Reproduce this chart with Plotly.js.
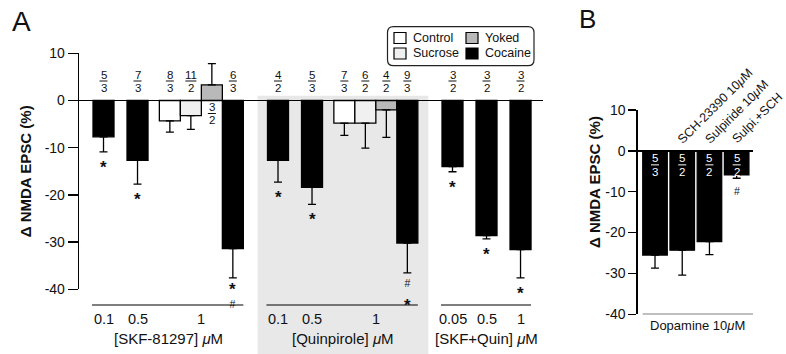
<!DOCTYPE html>
<html>
<head>
<meta charset="utf-8">
<script src="https://cdn.plot.ly/plotly-3.0.1.min.js"></script>
<style>html,body{margin:0;padding:0;background:#fff}#chart{width:786px;height:354px}</style>
</head>
<body>
<div id="chart"></div>
<script>
// ---------------- Panel A data ----------------
const groupTitles = ['[SKF-81297] <i>μ</i>M', '[Quinpirole] <i>μ</i>M', '[SKF+Quin] <i>μ</i>M'];
const doseLabels = [['0.1', '0.5', '1'], ['0.1', '0.5', '1'], ['0.05', '0.5', '1']];
const barGroup = [0, 0, 0, 0, 0, 0, 1, 1, 1, 1, 1, 1, 2, 2, 2];
const barDose  = [0, 1, 2, 2, 2, 2, 0, 1, 2, 2, 2, 2, 0, 1, 2];
const barCond  = ['Cocaine', 'Cocaine', 'Control', 'Sucrose', 'Yoked', 'Cocaine',
                  'Cocaine', 'Cocaine', 'Control', 'Sucrose', 'Yoked', 'Cocaine',
                  'Cocaine', 'Cocaine', 'Cocaine'];
const barValue = [-7.7, -12.7, -4.3, -3.2, 3.3, -31.4,
                  -12.7, -18.4, -4.8, -4.8, -2.0, -30.2,
                  -14.0, -28.6, -31.6];
const barError = [3.2, 5.0, 2.4, 2.9, 4.5, 6.2,
                  4.6, 3.6, 2.6, 5.3, 5.8, 6.3,
                  1.1, 0.7, 6.0];
const barN = ['5/3', '7/3', '8/3', '11/2', '3/2', '6/3',
              '4/2', '5/3', '7/3', '6/2', '4/2', '9/3',
              '3/2', '3/2', '3/2'];
const barMarks = [['*'], ['*'], [], [], [], ['*', '#'],
                  ['*'], ['*'], [], [], [], ['#', '*'],
                  ['*'], ['*'], ['*']];
const shadedGroup = 1;
const conditions = ['Control', 'Sucrose', 'Yoked', 'Cocaine'];
const condColors = {Control: '#ffffff', Sucrose: '#f0f0f0', Yoked: '#b9b9b9', Cocaine: '#000000'};

// ---------------- Panel B data ----------------
const bCategories = ['Dopamine', 'SCH-23390', 'Sulpiride', 'Sulpi.+SCH'];
const bLabels = ['', 'SCH-23390 10<i>μ</i>M', 'Sulpiride 10<i>μ</i>M', 'Sulpi.+SCH'];
const bValue = [-25.5, -24.3, -22.2, -5.9];
const bError = [3.2, 6.1, 3.2, 0.8];
const bN = ['5/3', '5/2', '5/2', '5/2'];
const bMarks = [[], [], [], ['#']];
const bGroupLabel = 'Dopamine 10<i>μ</i>M';

const yTicks = [10, 0, -10, -20, -30, -40];
const yTickText = ['10', '0', '-10', '-20', '-30', '-40'];
const yTitle = '<b>Δ NMDA EPSC (%)</b>';

// ---------------- layout helpers ----------------
const W = 786, H = 354;
const px = v => v / W;
const py = v => 1 - v / H;
const FONT = 'Liberation Sans, Arial, Helvetica, sans-serif';
const INK = '#111';

// glyph styling of significance marks (c = visual centre above baseline, px)
const GLYPH = {'*': {size: 17, weight: 'bold', c: 9.7}, '#': {size: 10.5, weight: 'normal', c: 3.7}};
const MARK_FIRST_GAP = {'*': 10.5, '#': 12, '*#': 7, '#*': 9}; // error-bar cap -> centre of first mark
const MARK_SEP = {'*#': 19.3, '#*': 17.5};                       // centre-to-centre spacing of stacked marks

// bar positions in panel A (units = one bar width)
const SINGLE_STEP = 1.62, CLUSTER_ENTRY = 1.54, CLUSTER_STEP = 1.0, GROUP_GAP = 2.15;
const barX = [];
barValue.forEach((v, i) => {
  if (i === 0) { barX.push(0); return; }
  let p = barX[i - 1];
  const clusterNext = barDose.filter((d, j) => barGroup[j] === barGroup[i] && d === barDose[i]).length > 1;
  if (barGroup[i] !== barGroup[i - 1]) p += GROUP_GAP;
  else if (barDose[i] === barDose[i - 1]) p += CLUSTER_STEP;
  else if (clusterNext) p += CLUSTER_ENTRY;
  else p += SINGLE_STEP;
  barX.push(p);
});
const bX = bCategories.map((c, i) => i);

const traces = [];
conditions.forEach(c => {
  const idx = barCond.map((v, i) => v === c ? i : -1).filter(i => i >= 0);
  traces.push({
    type: 'bar', name: c,
    x: idx.map(i => barX[i]), y: idx.map(i => barValue[i]),
    width: 1,
    marker: {color: condColors[c], line: {color: '#000', width: 1.3}},
    error_y: {type: 'data', symmetric: false,
      array: idx.map(i => barValue[i] > 0 ? barError[i] : 0),
      arrayminus: idx.map(i => barValue[i] < 0 ? barError[i] : 0),
      color: '#000', thickness: 1.3, width: 4},
    xaxis: 'x', yaxis: 'y', showlegend: false, hoverinfo: 'skip'
  });
});
traces.push({
  type: 'bar', name: 'Dopamine 10μM',
  x: bX, y: bValue, width: 0.9,
  marker: {color: '#000', line: {color: '#000', width: 1.3}},
  error_y: {type: 'data', symmetric: false,
    array: bValue.map(() => 0), arrayminus: bError,
    color: '#000', thickness: 1.3, width: 4},
  xaxis: 'x2', yaxis: 'y2', showlegend: false, hoverinfo: 'skip'
});

const annotations = [];
const shapes = [];

// fractions (n cells / n animals)
function addFraction(xref, yref, xv, frac, inside, positive, color) {
  const [num, den] = frac.split('/');
  let oNum, oLine, oDen;
  if (inside) { oNum = -7.5; oLine = -14; oDen = -21; }
  else if (positive) { oNum = -7; oLine = -13; oDen = -20; }
  else { oNum = 25.5; oLine = 19.5; oDen = 12.5; }
  const f = {family: FONT, size: 11.5, color: color};
  annotations.push({xref, yref, x: xv, y: 0, text: num, showarrow: false, yanchor: 'middle', yshift: oNum, font: f});
  annotations.push({xref, yref, x: xv, y: 0, text: den, showarrow: false, yanchor: 'middle', yshift: oDen, font: f});
  const hw = Math.max(num.length, den.length) > 1 ? 5.5 : 4;
  shapes.push({type: 'line', xref, yref, xsizemode: 'pixel', ysizemode: 'pixel',
    xanchor: xv, yanchor: 0, x0: -hw, x1: hw, y0: oLine, y1: oLine,
    line: {color: color, width: 1}});
}
// significance marks, stacked in one text below the error bar
function addMarks(xref, yref, xv, yEnd, marks) {
  if (!marks.length) return;
  const key = marks.join('');
  const g0 = GLYPH[marks[0]];
  let base = 12;
  if (marks.length > 1) {
    const g1 = GLYPH[marks[1]];
    base = (MARK_SEP[key] - g0.c + g1.c) / 1.3;
  }
  const text = marks.map(m => `<span style="font-size:${GLYPH[m].size}px;font-weight:${GLYPH[m].weight}">${m}</span>`).join('<br>');
  const yshift = 1 + 0.905 * g0.size - g0.c - MARK_FIRST_GAP[key];
  annotations.push({xref, yref, x: xv, y: yEnd, text: text, showarrow: false, yanchor: 'top',
    yshift: yshift, font: {family: FONT, size: base, color: INK}});
}

barX.forEach((x, i) => {
  addFraction('x', 'y', x, barN[i], false, barValue[i] > 0, INK);
  addMarks('x', 'y', x, barValue[i] - barError[i], barMarks[i]);
});
bX.forEach((x, i) => {
  addFraction('x2', 'y2', x, bN[i], true, false, '#ffffff');
  addMarks('x2', 'y2', x, bValue[i] - bError[i], bMarks[i]);
  if (bLabels[i]) {
    annotations.push({xref: 'x2', yref: 'y2', x: x, y: 0, text: bLabels[i], showarrow: false,
      textangle: -45, xanchor: 'left', yanchor: 'bottom', xshift: -10, yshift: 2,
      font: {family: FONT, size: 12.5, color: INK}});
  }
});

// group underlines, dose labels and group titles (panel A)
groupTitles.forEach((t, g) => {
  const idx = barGroup.map((v, i) => v === g ? i : -1).filter(i => i >= 0);
  const xs = idx.map(i => barX[i]);
  const x0 = Math.min(...xs), x1 = Math.max(...xs);
  shapes.push({type: 'line', xref: 'x', yref: 'paper', x0: x0 - 0.55, x1: x1 + 0.5,
    y0: py(305), y1: py(305), line: {color: '#000', width: 1.2}});
  doseLabels[g].forEach((d, k) => {
    const dx = idx.filter(i => barDose[i] === k).map(i => barX[i]);
    const cx = (Math.min(...dx) + Math.max(...dx)) / 2;
    annotations.push({xref: 'x', yref: 'paper', x: cx, y: py(318.5), text: d, showarrow: false,
      yanchor: 'middle', font: {family: FONT, size: 14.5, color: INK}});
  });
  annotations.push({xref: 'x', yref: 'paper', x: (x0 + x1) / 2, y: py(338.5), text: t, showarrow: false,
    yanchor: 'middle', font: {family: FONT, size: 15, color: INK}});
  if (g === shadedGroup) {
    shapes.push({type: 'rect', xref: 'x', yref: 'paper', x0: x0 - 0.97, x1: x1 + 1.0,
      y0: 0, y1: py(95.7), fillcolor: '#e8e8e8', line: {width: 0}, layer: 'below'});
  }
});

// panel B bottom line + label
shapes.push({type: 'line', xref: 'x2', yref: 'y2', x0: -0.45, x1: 3.6, y0: -40, y1: -40,
  line: {color: '#000', width: 1.3}});
annotations.push({xref: 'x2', yref: 'paper', x: (-0.45 + 3.6) / 2, y: py(325), text: bGroupLabel,
  showarrow: false, yanchor: 'middle', font: {family: FONT, size: 13, color: INK}});

// panel B axis title (placed like the reference, above the domain centre)
annotations.push({xref: 'paper', yref: 'paper', x: px(594), y: py(182), text: yTitle, showarrow: false,
  textangle: -90, xanchor: 'center', yanchor: 'middle', font: {family: FONT, size: 15, color: INK}});

// legend (custom box, 2 columns)
shapes.push({type: 'path', xref: 'paper', yref: 'paper',
  path: (() => {
    const l = px(387.5), r = px(534), t = py(26.7), b = py(65.7), rx = 6 / W, ry = 6 / H;
    return `M${l + rx},${t} L${r - rx},${t} Q${r},${t} ${r},${t - ry} L${r},${b + ry} Q${r},${b} ${r - rx},${b} L${l + rx},${b} Q${l},${b} ${l},${b + ry} L${l},${t - ry} Q${l},${t} ${l + rx},${t} Z`;
  })(),
  line: {color: '#222', width: 1.2}, fillcolor: 'rgba(255,255,255,1)'});
const legendOrder = [['Control', 0, 0], ['Sucrose', 0, 1], ['Yoked', 1, 0], ['Cocaine', 1, 1]];
legendOrder.forEach(([c, col, row]) => {
  const sx = col === 0 ? 394 : 466;
  const cy = row === 0 ? 38 : 53.5;
  shapes.push({type: 'rect', xref: 'paper', yref: 'paper', x0: px(sx), x1: px(sx + 12),
    y0: py(cy + 5.5), y1: py(cy - 5.5), fillcolor: condColors[c], line: {color: '#000', width: 1.2}});
  annotations.push({xref: 'paper', yref: 'paper', x: px(sx + 16.5), y: py(cy), text: c, showarrow: false,
    xanchor: 'left', yanchor: 'middle', font: {family: FONT, size: 12.5, color: INK}});
});

// panel letters
annotations.push({xref: 'paper', yref: 'paper', x: px(21.7), y: py(21.5), text: 'A', showarrow: false,
  xanchor: 'center', yanchor: 'middle', font: {family: FONT, size: 28, color: INK}});
annotations.push({xref: 'paper', yref: 'paper', x: px(587), y: py(19.5), text: 'B', showarrow: false,
  xanchor: 'center', yanchor: 'middle', font: {family: FONT, size: 26, color: INK}});

const yAxisCommon = {
  range: [-40, 10], tickvals: yTicks, ticktext: yTickText,
  showline: true, linecolor: '#000', linewidth: 1.3,
  ticks: 'outside', tickcolor: '#000', tickwidth: 1.3,
  showgrid: false, zeroline: true, zerolinecolor: '#000', zerolinewidth: 1.3,
  tickfont: {family: FONT, size: 14, color: INK}, fixedrange: true
};

const layout = {
  width: W, height: H,
  margin: {l: 0, r: 0, t: 0, b: 0},
  paper_bgcolor: '#ffffff', plot_bgcolor: 'rgba(0,0,0,0)',
  barmode: 'overlay', showlegend: false,
  font: {family: FONT, color: INK},
  xaxis: {domain: [px(79), px(543)], range: [-1.167, 20.93], visible: false, fixedrange: true},
  yaxis: Object.assign({}, yAxisCommon, {domain: [py(289.3), py(53.3)], anchor: 'x', ticklen: 10,
    title: {text: yTitle, font: {family: FONT, size: 15, color: INK}, standoff: 9}}),
  xaxis2: {domain: [px(637.7), px(753)], range: [-0.636, 3.6], visible: false, fixedrange: true},
  yaxis2: Object.assign({}, yAxisCommon, {domain: [py(314.3), py(110)], anchor: 'x2', ticklen: 8}),
  shapes: shapes,
  annotations: annotations
};

Plotly.newPlot('chart', traces, layout, {staticPlot: true, displayModeBar: false});
</script>
</body>
</html>
